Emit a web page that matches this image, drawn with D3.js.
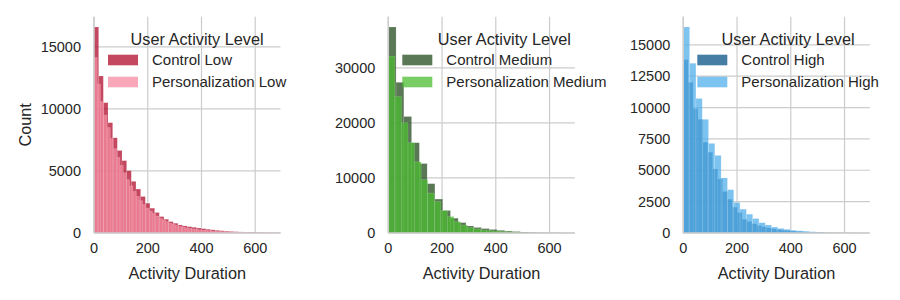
<!DOCTYPE html>
<html>
<head>
<meta charset="utf-8">
<script src="https://cdn.jsdelivr.net/npm/d3@7"></script>
<style>
  body { margin: 0; background: #fff; }
  text { font-family: "Liberation Sans", Arial, sans-serif; fill: #262626; }
</style>
</head>
<body>
<div class="hist-container"></div>
<script>
// Data: counts per bin, bins start at 0
const ctrlLowWidth = 17.35
const ctrlLow = [16600, 12650, 10500, 8890, 7670, 6650, 5830, 5020, 4160, 3540,
    2940, 2400, 2000, 1650, 1320, 1110, 915, 786, 650, 570,
    510, 460, 400, 350, 300, 255, 215, 180, 150, 125,
    105, 88, 74, 62, 52, 43, 36, 30, 25, 20]
const persLowWidth = 12.1
const persLow = [14150, 12000, 10600, 9500, 8500, 7600, 6800, 6100, 5450, 4850,
    4300, 3800, 3350, 2950, 2600, 2300, 2020, 1780, 1560, 1370,
    1200, 1050, 920, 800, 700, 610, 530, 470, 420, 375,
    335, 300, 265, 235, 210, 188, 168, 150, 135, 120,
    108, 97, 88, 80, 72, 65, 58, 52]

const ctrlMedWidth = 28.9
const ctrlMed = [37420, 27370, 21150, 16400, 12610, 8960, 6160, 4080, 2690, 1880,
    1280, 1000, 800, 640, 480, 360, 260, 180, 120, 80,
    55, 38, 25, 15]
const persMedWidth = 24.45
const persMed = [32120, 24800, 20050, 16400, 12920, 9690, 7260, 5720, 4080, 2990,
    2070, 1460, 1000, 750, 560, 430, 350, 290, 250, 200]

const ctrlHighWidth = 18.25
const ctrlHigh = [13820, 12010, 9920, 9060, 7240, 6440, 5110, 4310, 3310, 2700,
    2060, 1630, 1100, 920, 740, 600, 500, 410, 340, 280,
    230, 190, 155, 125, 100, 82, 66, 54, 44, 36,
    29, 23, 19, 15, 12, 9, 7, 5]
const persHighWidth = 23.45
const persHigh = [16420, 13530, 10720, 9060, 7140, 6180, 4390, 3450, 2430, 1900,
    1500, 1150, 820, 640, 470, 360, 290, 215, 170, 135,
    100, 80]

const xTicks = [0, 200, 400, 600]
const yTicksLow = [0, 5000, 10000, 15000]
const yTicksMed = [0, 10000, 20000, 30000]
const yTicksHigh = [0, 2500, 5000, 7500, 10000, 12500, 15000]
const xMax = 694

const legendTitle = 'User Activity Level'

let dimensions = {
    width: 900,
    height: 300,
    top: 16.7,
    bottom: 233,
    panelWidth: 186.5,
    lefts: [94, 388.3, 683.3]
}

const svg = d3.select('.hist-container')
    .append('svg')
    .attr('width', dimensions.width)
    .attr('height', dimensions.height)

const panels = [
    {
        series: [
            { name: 'Control Low', counts: ctrlLow, width: ctrlLowWidth, color: '#b00b2b' },
            { name: 'Personalization Low', counts: persLow, width: persLowWidth, color: '#f58ba0' }
        ],
        yTicks: yTicksLow
    },
    {
        series: [
            { name: 'Control Medium', counts: ctrlMed, width: ctrlMedWidth, color: '#234b1c' },
            { name: 'Personalization Medium', counts: persMed, width: persMedWidth, color: '#4bbc30' }
        ],
        yTicks: yTicksMed
    },
    {
        series: [
            { name: 'Control High', counts: ctrlHigh, width: ctrlHighWidth, color: '#085287' },
            { name: 'Personalization High', counts: persHigh, width: persHighWidth, color: '#52afeb' }
        ],
        yTicks: yTicksHigh
    }
]

function drawPanel(panel, i) {
    const left = dimensions.lefts[i]
    const right = left + dimensions.panelWidth

    const xScale = d3.scaleLinear()
        .domain([0, xMax])
        .range([left, right])

    const yMax = d3.max(panel.series, s => d3.max(s.counts)) * 1.05
    const yScale = d3.scaleLinear()
        .domain([0, yMax])
        .range([dimensions.bottom, dimensions.top])

    const g = svg.append('g')

// Grid
    g.selectAll('.hgrid')
        .data(panel.yTicks)
        .join('line')
        .attr('x1', left).attr('x2', right)
        .attr('y1', d => yScale(d)).attr('y2', d => yScale(d))
        .attr('stroke', '#cccccc')
        .attr('stroke-width', 1.2)

    g.selectAll('.vgrid')
        .data(xTicks)
        .join('line')
        .attr('x1', d => xScale(d)).attr('x2', d => xScale(d))
        .attr('y1', dimensions.top).attr('y2', dimensions.bottom)
        .attr('stroke', '#cccccc')
        .attr('stroke-width', 1.2)

// Bars, control first then personalization on top
    panel.series.forEach(s => {
        g.append('g')
            .selectAll('rect')
            .data(s.counts)
            .join('rect')
            .attr('x', (d, j) => xScale(j * s.width))
            .attr('width', (d, j) => xScale((j + 1) * s.width) - xScale(j * s.width))
            .attr('y', d => yScale(d))
            .attr('height', d => yScale(0) - yScale(d))
            .attr('fill', s.color)
            .attr('fill-opacity', 0.75)
            .attr('stroke', '#ffffff')
            .attr('stroke-opacity', 0.25)
            .attr('stroke-width', 0.5)
    })

// Spines
    g.append('line')
        .attr('x1', left).attr('x2', left)
        .attr('y1', dimensions.top).attr('y2', dimensions.bottom)
        .attr('stroke', '#cccccc').attr('stroke-width', 1.5)
    g.append('line')
        .attr('x1', left).attr('x2', right)
        .attr('y1', dimensions.bottom).attr('y2', dimensions.bottom)
        .attr('stroke', '#cccccc').attr('stroke-width', 1.5)

// Tick labels
    g.selectAll('.ytick')
        .data(panel.yTicks)
        .join('text')
        .attr('x', left - 13)
        .attr('y', d => yScale(d))
        .attr('dy', '0.35em')
        .attr('text-anchor', 'end')
        .attr('font-size', '14.5px')
        .text(d => d3.format('d')(d))

    g.selectAll('.xtick')
        .data(xTicks)
        .join('text')
        .attr('x', d => xScale(d))
        .attr('y', 248)
        .attr('dy', '0.35em')
        .attr('text-anchor', 'middle')
        .attr('font-size', '14.5px')
        .text(d => d)

    g.append('text')
        .attr('x', (left + right) / 2)
        .attr('y', 273)
        .attr('dy', '0.35em')
        .attr('text-anchor', 'middle')
        .attr('font-size', '16.3px')
        .text('Activity Duration')

    if (i === 0) {
        g.append('text')
            .attr('transform', `translate(25, ${(dimensions.top + dimensions.bottom) / 2}) rotate(-90)`)
            .attr('dy', '0.35em')
            .attr('text-anchor', 'middle')
            .attr('font-size', '16.3px')
            .text('Count')
    }

// Legend (no frame)
    const patchX = left + 14
    const textX = left + 58
    const rows = [60, 82]
    const legend = g.append('g')
    let textEnd = textX
    panel.series.forEach((s, j) => {
        legend.append('rect')
            .attr('x', patchX)
            .attr('y', rows[j] - 5.3)
            .attr('width', 30)
            .attr('height', 10.6)
            .attr('fill', s.color)
            .attr('fill-opacity', 0.75)
        const t = legend.append('text')
            .attr('x', textX)
            .attr('y', rows[j])
            .attr('dy', '0.35em')
            .attr('font-size', '15px')
            .text(s.name)
        textEnd = Math.max(textEnd, textX + t.node().getComputedTextLength())
    })
    legend.append('text')
        .attr('x', (patchX + textEnd) / 2)
        .attr('y', 39)
        .attr('dy', '0.35em')
        .attr('text-anchor', 'middle')
        .attr('font-size', '16.3px')
        .text(legendTitle)
}

panels.forEach(drawPanel)
</script>
</body>
</html>
